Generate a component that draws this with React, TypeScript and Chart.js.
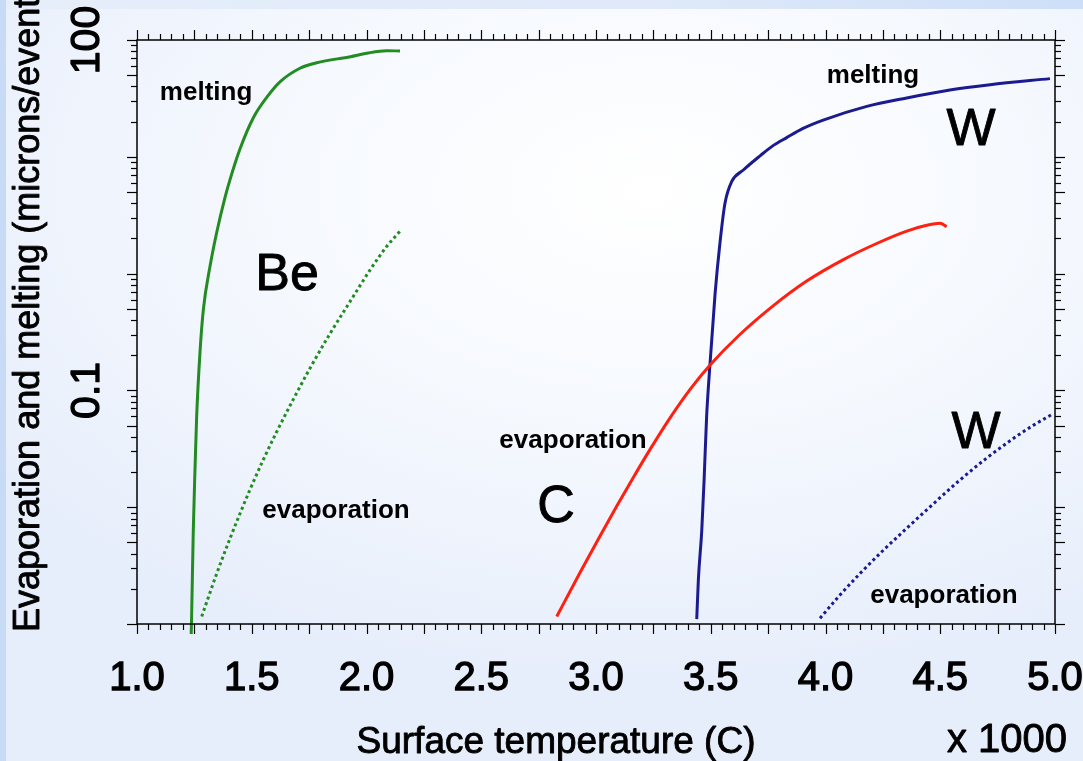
import React, { useEffect, useRef } from 'react';
import { Chart, registerables } from 'chart.js';

Chart.register(...registerables);

// ---- Data (surface temperature in units of 1000 C, erosion in microns/event) ----
const beMeltT = [1.236, 1.238, 1.245, 1.253, 1.26, 1.275, 1.289, 1.318, 1.347, 1.383, 1.405, 1.449, 1.507, 1.566, 1.623, 1.71, 1.783, 1.93, 2.001, 2.088, 2.146];
const beMeltVal = [0.0008, 0.00116, 0.006, 0.022, 0.06, 0.22, 0.49, 1.15, 2.24, 4.46, 6.35, 11.7, 21.6, 32.4, 43.8, 57.3, 63.8, 72, 77, 81, 80.5];

const beEvapT = [1.282, 1.347, 1.405, 1.492, 1.55, 1.609, 1.681, 1.754, 1.841, 1.928, 2.015, 2.088, 2.146];
const beEvapVal = [0.00116, 0.00269, 0.00538, 0.0141, 0.0254, 0.0443, 0.0838, 0.155, 0.306, 0.575, 1.07, 1.71, 2.3];

const cEvapT = [2.829, 2.93, 3.017, 3.09, 3.162, 3.235, 3.322, 3.41, 3.497, 3.627, 3.773, 3.918, 4.078, 4.223, 4.354, 4.441, 4.499, 4.528];
const cEvapVal = [0.00116, 0.00275, 0.00565, 0.0102, 0.0179, 0.0311, 0.0579, 0.102, 0.165, 0.301, 0.532, 0.863, 1.318, 1.81, 2.31, 2.59, 2.7, 2.52];

const wMeltT = [3.439, 3.446, 3.461, 3.471, 3.482, 3.497, 3.519, 3.54, 3.562, 3.591, 3.642, 3.715, 3.77, 3.831, 3.9, 3.99, 4.18, 4.354, 4.542, 4.717, 4.978];
const wMeltVal = [0.0011, 0.00238, 0.0064, 0.0171, 0.0596, 0.171, 0.678, 1.82, 4.0, 6.12, 7.71, 10.2, 12.4, 14.6, 17.4, 20.6, 27.0, 31.9, 37.3, 41.4, 46.7];

const wEvapT = [3.976, 4.063, 4.15, 4.252, 4.354, 4.47, 4.586, 4.702, 4.818, 4.905, 4.986];
const wEvapVal = [0.00112, 0.00177, 0.0027, 0.00428, 0.0066, 0.0107, 0.0171, 0.0263, 0.0387, 0.0502, 0.0622];

// y tick labels that are printed
const yLabelValues = [100, 0.1];
const yLabelTexts = ['100', '0.1'];

// in-plot labels (anchored in data coordinates)
const noteTexts = ['melting', 'melting', 'Be', 'evaporation', 'evaporation', 'C', 'W', 'W', 'evaporation'];
const noteT = [1.301, 4.207, 1.654, 1.867, 2.9, 2.826, 4.634, 4.656, 4.516];
const noteVal = [30.6, 42.9, 0.724, 0.00809, 0.0321, 0.00747, 12.6, 0.0321, 0.00151];
const noteBig = [false, false, true, false, false, true, true, true, false];

const yTitle = 'Evaporation and melting (microns/event)';
const xTitle = 'Surface temperature (C)';
const xMultiplier = 'x 1000';

const FONT = "'Liberation Sans', Arial, sans-serif";

const pts = (xs: number[], ys: number[]) => xs.map((x, i) => ({ x, y: ys[i] }));

const decorPlugin = {
  id: 'decor',
  afterDatasetsDraw(chart: any) {
    const { ctx, chartArea: a, scales } = chart;
    const x = scales.x;
    const y = scales.y;
    ctx.save();
    ctx.strokeStyle = '#000';
    ctx.lineWidth = 1.5;
    ctx.strokeRect(a.left, a.top, a.right - a.left, a.bottom - a.top);
    ctx.lineWidth = 1.2;
    const line = (x1: number, y1: number, x2: number, y2: number) => {
      ctx.beginPath();
      ctx.moveTo(x1, y1);
      ctx.lineTo(x2, y2);
      ctx.stroke();
    };
    for (let i = 0; i <= 80; i++) {
      const v = 1 + i * 0.05;
      const px = Math.round(x.getPixelForValue(v)) + 0.5;
      const len = i % 5 === 0 ? 10 : 6;
      line(px, a.bottom, px, a.bottom + len);
      line(px, a.top, px, a.top - len);
    }
    for (let e = -3; e <= 2; e++) {
      for (let m = 1; m <= 9; m++) {
        const v = m * Math.pow(10, e);
        if (v > 100.0001) continue;
        const py = Math.round(y.getPixelForValue(v)) + 0.5;
        const len = m === 1 || m === 5 ? 10 : 6;
        line(a.left - len, py, a.left, py);
        line(a.right, py, a.right + len, py);
      }
    }
    ctx.restore();
  },
  afterDraw(chart: any) {
    const { ctx, chartArea: a, scales } = chart;
    const x = scales.x;
    const y = scales.y;
    ctx.save();
    ctx.fillStyle = '#000';
    ctx.strokeStyle = '#000';
    ctx.lineWidth = 0.9;
    ctx.lineJoin = 'round';
    const heavy = (t: string, px: number, py: number) => {
      ctx.fillText(t, px, py);
      ctx.strokeText(t, px, py);
    };
    // y tick labels (rotated)
    ctx.font = `41px ${FONT}`;
    yLabelValues.forEach((v, i) => {
      const w = ctx.measureText(yLabelTexts[i]).width;
      const cy = Math.max(y.getPixelForValue(v), w / 2 - 2);
      ctx.save();
      ctx.translate(a.left - 38, cy);
      ctx.rotate(-Math.PI / 2);
      ctx.textAlign = 'center';
      ctx.textBaseline = 'alphabetic';
      ctx.lineWidth = 1.3;
      heavy(yLabelTexts[i], 0, 0);
      ctx.restore();
    });
    // y title
    ctx.font = `36px ${FONT}`;
    ctx.save();
    ctx.translate(39, a.bottom + 8);
    ctx.rotate(-Math.PI / 2);
    ctx.textAlign = 'left';
    ctx.textBaseline = 'alphabetic';
    heavy(yTitle, 0, 0);
    ctx.restore();
    // x title and multiplier
    ctx.textBaseline = 'alphabetic';
    ctx.textAlign = 'center';
    ctx.font = `37px ${FONT}`;
    heavy(xTitle, 556, a.bottom + 129);
    ctx.textAlign = 'left';
    ctx.font = `40px ${FONT}`;
    heavy(xMultiplier, 947, a.bottom + 128);
    // notes
    ctx.textAlign = 'center';
    noteTexts.forEach((t, i) => {
      ctx.font = noteBig[i] ? `52px ${FONT}` : `bold 26px ${FONT}`;
      if (noteBig[i]) heavy(t, x.getPixelForValue(noteT[i]), y.getPixelForValue(noteVal[i]));
      else ctx.fillText(t, x.getPixelForValue(noteT[i]), y.getPixelForValue(noteVal[i]));
    });
    ctx.restore();
  },
};

export default function App() {
  const ref = useRef<HTMLCanvasElement | null>(null);
  useEffect(() => {
    if (!ref.current) return;
    const green = '#228b22';
    const red = '#ff2010';
    const navy = '#1b1b8f';
    const base = { pointRadius: 0, borderWidth: 3, fill: false, cubicInterpolationMode: 'monotone' as const };
    const chart = new Chart(ref.current, {
      type: 'line',
      data: {
        datasets: [
          { ...base, label: 'Be melting', data: pts(beMeltT, beMeltVal), borderColor: green, clip: { left: 0, top: 0, right: 0, bottom: 10 } as any },
          { ...base, label: 'Be evaporation', data: pts(beEvapT, beEvapVal), borderColor: green, borderDash: [3, 3] },
          { ...base, label: 'C evaporation', data: pts(cEvapT, cEvapVal), borderColor: red },
          { ...base, label: 'W melting', data: pts(wMeltT, wMeltVal), borderColor: navy },
          { ...base, label: 'W evaporation', data: pts(wEvapT, wEvapVal), borderColor: navy, borderDash: [3, 3] },
        ],
      },
      options: {
        responsive: false,
        animation: false,
        layout: { padding: { top: 40, right: 28, left: 0, bottom: 0 } },
        plugins: { legend: { display: false }, tooltip: { enabled: false } },
        scales: {
          x: {
            type: 'linear',
            min: 1,
            max: 5,
            afterFit: (s: any) => {
              s.height = 137;
              s.paddingLeft = 0;
              s.paddingRight = 0;
            },
            grid: { display: false, drawTicks: false },
            border: { display: false },
            ticks: {
              stepSize: 0.5,
              padding: 31,
              color: '#000',
              textStrokeColor: '#000',
              textStrokeWidth: 1.3,
              font: { family: FONT, size: 40 },
              maxRotation: 0,
              autoSkip: false,
              callback: (v: any) => Number(v).toFixed(1),
            },
          },
          y: {
            type: 'logarithmic',
            min: 0.001,
            max: 100,
            afterFit: (s: any) => {
              s.width = 137;
            },
            grid: { display: false, drawTicks: false },
            border: { display: false },
            ticks: { display: false },
          },
        },
      },
      plugins: [decorPlugin],
    });
    return () => chart.destroy();
  }, []);

  return (
    <div
      style={{
        position: 'fixed',
        left: 0,
        top: 0,
        width: 1083,
        height: 761,
        overflow: 'hidden',
        background: 'radial-gradient(ellipse 75% 65% at 60% 25%, #ffffff 0%, #f6f9fe 45%, #e7eefb 100%)',
      }}
    >
      <div style={{ position: 'absolute', left: 0, top: 0, width: 1083, height: 9, background: 'linear-gradient(90deg, #e6eefa 0%, #dfe9f9 60%, #cddff8 100%)' }} />
      <div style={{ position: 'absolute', left: 0, top: 0, width: 6, height: 761, background: '#c8dbf6' }} />
      <canvas ref={ref} width={1083} height={761} style={{ position: 'absolute', left: 0, top: 0, width: 1083, height: 761 }} />
    </div>
  );
}
